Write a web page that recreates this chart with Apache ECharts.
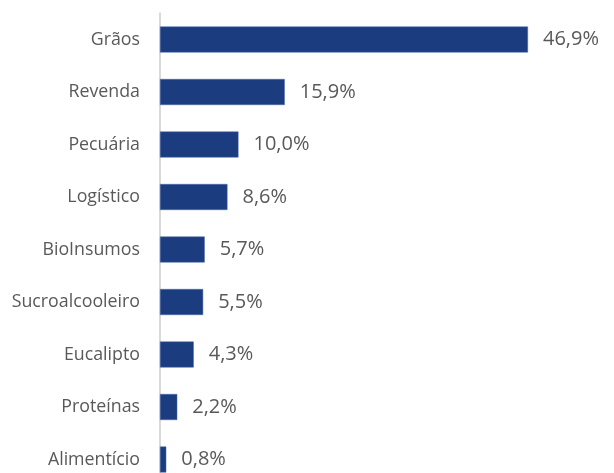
<!DOCTYPE html>
<html><head><meta charset="utf-8">
<script src="https://cdn.jsdelivr.net/npm/echarts@6/dist/echarts.min.js"></script>
<style>html,body{margin:0;padding:0;background:#fff}#c{width:614px;height:473px}</style>
</head><body><div id="c"></div>
<script>
const categories = ['Grãos','Revenda','Pecuária','Logístico','BioInsumos','Sucroalcooleiro','Eucalipto','Proteínas','Alimentício'];
const values = [46.9,15.9,10.0,8.6,5.7,5.5,4.3,2.2,0.8];

const chart = echarts.init(document.getElementById('c'));
chart.setOption({
  animation:false,
  grid:{left:160,width:392.3,top:13.25,height:472.5,containLabel:false,outerBoundsMode:'none'},
  xAxis:{type:'value',min:0,max:50,show:false},
  yAxis:{type:'category',data:categories,inverse:true,
    axisLine:{lineStyle:{color:'#d9d9d9',width:2}},
    axisTick:{show:false},
    axisLabel:{margin:20,color:'#595959',fontFamily:'Open Sans',fontSize:17.8}},
  series:[{type:'bar',data:values,barWidth:26,
    itemStyle:{color:'#1b3c7f',borderColor:'#4a6aa8',borderWidth:0.5},
    label:{show:true,position:'right',distance:15,color:'#595959',fontFamily:'Open Sans',fontSize:20,
      formatter:p=>p.value.toFixed(1).replace('.',',')+'%'}}]
});
</script></body></html>
